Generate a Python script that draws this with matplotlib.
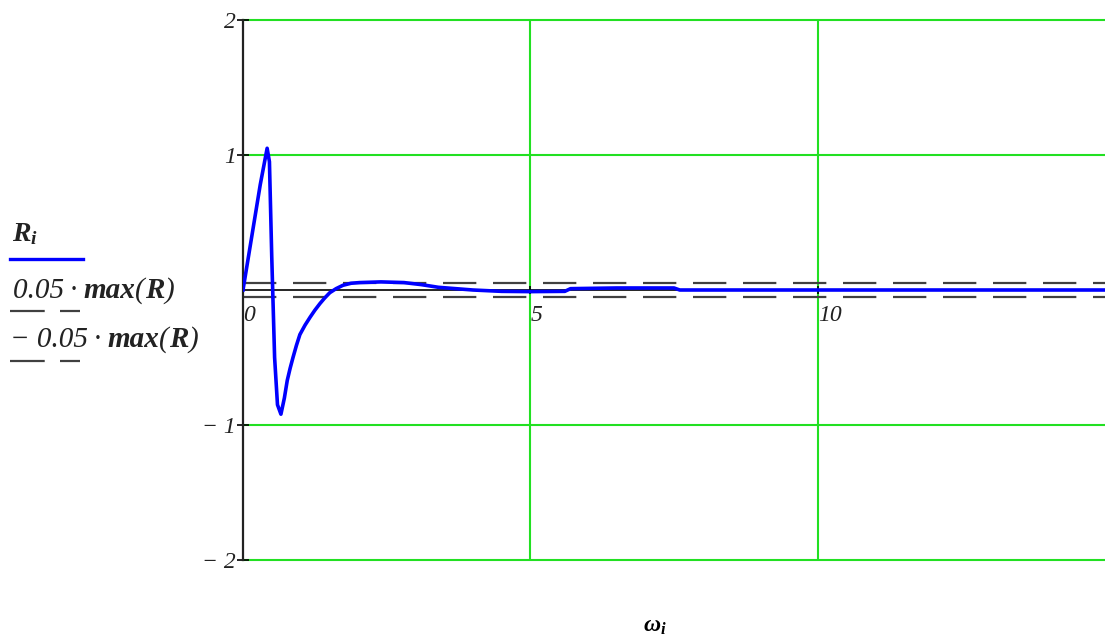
import numpy as np
import matplotlib
matplotlib.use("Agg")
import matplotlib.pyplot as plt
from matplotlib.lines import Line2D

# mathcad-like serif fonts
plt.rcParams['mathtext.fontset'] = 'custom'
plt.rcParams['mathtext.rm'] = 'Liberation Serif'
plt.rcParams['mathtext.it'] = 'Liberation Serif:italic'
plt.rcParams['mathtext.bf'] = 'Liberation Serif:italic:bold'
plt.rcParams['lines.scale_dashes'] = False

# curve R_i against omega_i
omega = [0, 0.1, 0.2, 0.3, 0.42, 0.46, 0.5, 0.55, 0.6, 0.66, 0.72, 0.77, 0.82, 0.87,
         0.93, 0.99, 1.08, 1.17, 1.25, 1.34, 1.42, 1.51, 1.62, 1.74, 1.88, 2.03, 2.4,
         2.8, 3.1, 3.4, 3.7, 4.0, 4.5, 5.0, 5.6, 5.7, 6.5, 7.5, 7.6, 9.0, 12.0, 15.0]
R = [0, 0.26, 0.52, 0.78, 1.05, 0.95, 0.25, -0.5, -0.85, -0.92, -0.80, -0.67, -0.58, -0.50,
     -0.41, -0.33, -0.26, -0.20, -0.15, -0.10, -0.06, -0.02, 0.01, 0.035, 0.05, 0.055, 0.06,
     0.055, 0.04, 0.02, 0.01, 0.0, -0.01, -0.012, -0.01, 0.01, 0.015, 0.015, 0.0, 0.0, 0.0, 0.0]

yticks = [-2, -1, 1, 2]
ytick_labels = ['\u2212 2', '\u2212 1', '1', '2']
xticks = [0, 5, 10]
xtick_labels = ['0', '5', '10']

green = '#22e022'
blue = '#0000ff'
dash_col = '#404040'
txt_col = '#222222'

W, H = 1105, 637
fig = plt.figure(figsize=(W / 100, H / 100), dpi=100)
ax = fig.add_axes([243 / W, 1 - 560 / H, 1 - 243 / W, (560 - 20) / H])
ax.set_xlim(0, 15)
ax.set_ylim(-2, 2)

# green grid
for yv in [-2, -1, 1, 2]:
    ax.axhline(yv, color=green, lw=1.5, clip_on=False, zorder=1)
for xv in [5, 10]:
    ax.axvline(xv, color=green, lw=1.5, zorder=1)

# axes lines
for s in ['top', 'right']:
    ax.spines[s].set_visible(False)
ax.spines['bottom'].set_position(('data', 0))
ax.spines['bottom'].set_color('black')
ax.spines['bottom'].set_linewidth(1.2)
ax.spines['left'].set_color(txt_col)
ax.spines['left'].set_linewidth(1.6)
ax.spines['left'].set_zorder(3)

# +/- 5% band
rmax = max(R)
dashed = dict(color=dash_col, lw=1.6, dashes=(24, 12), zorder=2)
ax.axhline(0.05 * rmax, **dashed)
ax.axhline(-0.05 * rmax, **dashed)

ax.plot(omega, R, color=blue, lw=2.6, zorder=4)

ax.set_yticks(yticks)
ax.set_yticklabels(ytick_labels, fontfamily='Liberation Serif', fontstyle='italic',
                   fontsize=17, color=txt_col)
ax.set_xticks(xticks)
ax.set_xticklabels(xtick_labels, fontfamily='Liberation Serif', fontstyle='italic',
                   fontsize=17, color=txt_col, ha='left')
ax.tick_params(axis='y', direction='inout', length=8, width=1.2, pad=1)
ax.tick_params(axis='x', direction='inout', length=6, width=1.2, pad=8)


# legend on the left, mathcad style
def fx(px):
    return px / W


def fy(py):
    return 1 - py / H


def chain_text(x, y, parts, size=21):
    # each part: (text, weight); all italic serif, placed one after another
    t = None
    for s, wt in parts:
        kw = dict(fontfamily='Liberation Serif', fontstyle='italic', fontweight=wt,
                  fontsize=size, color=txt_col, va='bottom', ha='left')
        if t is None:
            t = fig.text(x, y, s, **kw)
        else:
            t = ax.annotate(s, xy=(1, 0), xycoords=t, annotation_clip=False, **kw)
    return t


fig.text(fx(12), fy(233), r'$\mathbf{R_i}$', fontsize=20, va='center', ha='left',
         color=txt_col)
fig.add_artist(Line2D([fx(10), fx(83)], [fy(259), fy(259)], color=blue, lw=2.4,
                      transform=fig.transFigure))

chain_text(fx(13), fy(304), [('0.05\u2009\u00b7\u2009', 'normal'), ('max', 'bold'),
                             ('(', 'normal'), ('R', 'bold'), (')', 'normal')])
fig.add_artist(Line2D([fx(10), fx(80)], [fy(311), fy(311)], color=dash_col, lw=1.6,
                      dashes=(25, 11), transform=fig.transFigure))
chain_text(fx(10), fy(353), [('\u2212 0.05\u2009\u00b7\u2009', 'normal'), ('max', 'bold'),
                             ('(', 'normal'), ('R', 'bold'), (')', 'normal')])
fig.add_artist(Line2D([fx(10), fx(80)], [fy(361), fy(361)], color=dash_col, lw=1.6,
                      dashes=(25, 11), transform=fig.transFigure))

fig.text(fx(655), fy(625), r'$\mathbf{\omega_i}$', fontsize=17, va='center', ha='center')

fig.savefig('out.png', dpi=100)
